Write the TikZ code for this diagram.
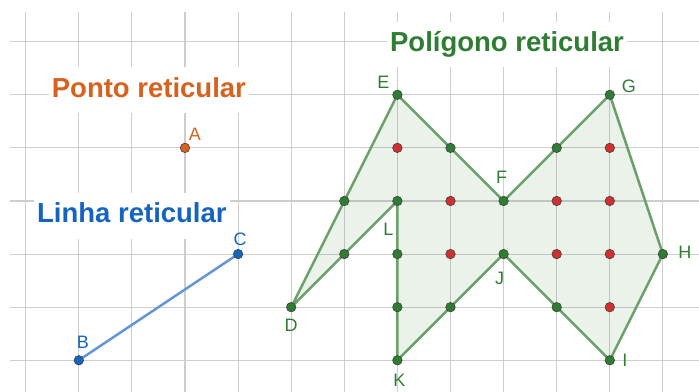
\documentclass[tikz,border=0pt]{standalone}
\usepackage{fontspec}
\setmainfont{Liberation Sans}
\definecolor{GridGray}{RGB}{206,206,206}
\definecolor{DotOrange}{RGB}{214,98,30}
\definecolor{DotBlue}{RGB}{21,101,192}
\definecolor{LineBlue}{RGB}{100,150,215}
\definecolor{PolyGreen}{RGB}{46,125,50}
\definecolor{EdgeGreen}{RGB}{106,160,106}
\definecolor{DotRed}{RGB}{211,47,47}
\usetikzlibrary{arrows.meta, positioning, calc, backgrounds}
\tikzset{
  gpt/.style={circle, draw=black!75, line width=0.6pt, inner sep=0pt, minimum size=9.5pt},
  ptlabel/.style={font=\fontsize{18}{18}\selectfont},
  boxtitle/.style={fill=white, font=\fontsize{27.5}{27.5}\selectfont\bfseries,
    inner xsep=3pt, inner ysep=0pt, text height=30pt, text depth=15.7pt, anchor=base}
}

\begin{document}
\begin{tikzpicture}[x=53.1pt, y=53.1pt]
      \useasboundingbox (-0.484,-0.597) rectangle (12.680,6.785);
      % grid
      \foreach \i in {0,...,12}
            \draw[GridGray, line width=1.1pt] (\i,-0.6) -- (\i,6.559);
      \foreach \j in {0,...,6}
            \draw[GridGray, line width=1.1pt] (-0.296,\j) -- (12.7,\j);
      % titles
      \node[boxtitle, text=DotOrange] (ponto) at (2.320,4.953) {Ponto reticular};
      \node[boxtitle, text=DotBlue] (linha) at (2.0,2.586) {Linha reticular};
      \node[boxtitle, text=PolyGreen] (poligono) at (9.064,5.812) {Polígono reticular};
      % lattice points
      \coordinate (A) at (3,4);
      \coordinate (B) at (1,0);
      \coordinate (C) at (4,2);
      \coordinate (D) at (5,1);
      \coordinate (E) at (7,5);
      \coordinate (F) at (9,3);
      \coordinate (G) at (11,5);
      \coordinate (H) at (12,2);
      \coordinate (I) at (11,0);
      \coordinate (J) at (9,2);
      \coordinate (K) at (7,0);
      \coordinate (L) at (7,3);
      \filldraw[fill=PolyGreen, fill opacity=0.1, draw=EdgeGreen, line width=2.5pt, line join=round]
            (E) -- (F) -- (G) -- (H) -- (I) -- (J) -- (K) -- (L) -- (D) -- cycle;
      \draw[LineBlue, line width=2.5pt] (B) -- (C);
      % boundary and interior points
      \foreach \p [count=\i] in {(8,4),(10,4),(10,1),(8,1),(7,1),(7,2),(6,2),(6,3)}
            \node[gpt, fill=PolyGreen] (b\i) at \p {};
      \foreach \p [count=\i] in {(7,4),(11,4),(8,3),(10,3),(11,3),(8,2),(10,2),(11,2),(11,1)}
            \node[gpt, fill=DotRed] (r\i) at \p {};
      \node[gpt, fill=DotOrange] (pA) at (A) {};
      \node[gpt, fill=DotBlue] (pB) at (B) {};
      \node[gpt, fill=DotBlue] (pC) at (C) {};
      \foreach \n in {D,E,F,G,H,I,J,K,L}
            \node[gpt, fill=PolyGreen] (p\n) at (\n) {};
      % labels
      \node[ptlabel, text=DotOrange] (lA) at ([shift={(10pt,14pt)}]A) {A};
      \node[ptlabel, text=DotBlue] (lB) at ([shift={(4pt,18pt)}]B) {B};
      \node[ptlabel, text=DotBlue] (lC) at ([shift={(2pt,15pt)}]C) {C};
      \node[ptlabel, text=PolyGreen] (lD) at ([shift={(0pt,-18pt)}]D) {D};
      \node[ptlabel, text=PolyGreen] (lE) at ([shift={(-14pt,12pt)}]E) {E};
      \node[ptlabel, text=PolyGreen] (lF) at ([shift={(-2pt,24pt)}]F) {F};
      \node[ptlabel, text=PolyGreen] (lG) at ([shift={(19pt,8pt)}]G) {G};
      \node[ptlabel, text=PolyGreen] (lH) at ([shift={(22pt,2pt)}]H) {H};
      \node[ptlabel, text=PolyGreen] (lI) at ([shift={(15pt,0pt)}]I) {I};
      \node[ptlabel, text=PolyGreen] (lJ) at ([shift={(-4pt,-24pt)}]J) {J};
      \node[ptlabel, text=PolyGreen] (lK) at ([shift={(2pt,-20pt)}]K) {K};
      \node[ptlabel, text=PolyGreen] (lL) at ([shift={(-9pt,-28pt)}]L) {L};
\end{tikzpicture}
\end{document}
